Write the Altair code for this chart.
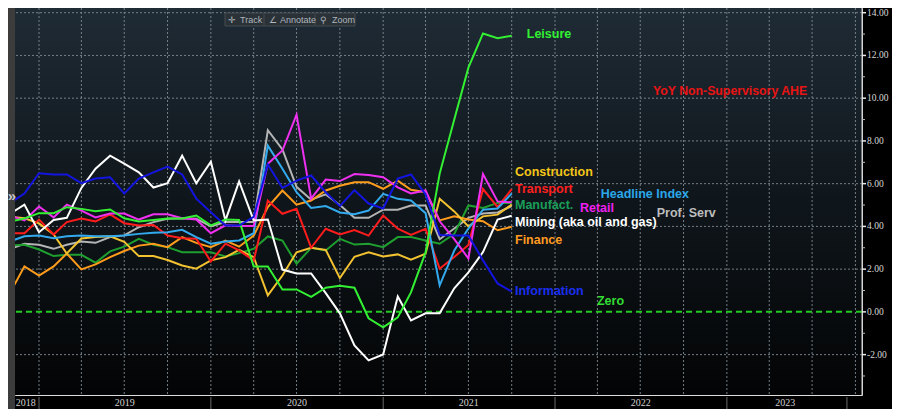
import altair as alt
import pandas as pd

# ---------------- data (monthly, Nov 2018 .. Oct 2021) ----------------
months = pd.date_range("2018-11-01", "2021-10-01", freq="MS")

leisure = [4.23, 4.37, 4.62, 4.62, 4.9, 4.82, 4.71, 4.79, 4.38, 4.23, 4.3, 4.37,
           4.37, 4.51, 4.05, 4.32, 4.3, 2.12, 2.12, 1.05, 1.05, 0.7, 1.13, 1.22,
           1.13, -0.3, -0.72, -0.26, 0.91, 2.78, 6.47, 9.0, 11.43, 13.03, 12.81, 12.92]
construction = [4.45, 4.38, 4.14, 3.62, 2.73, 3.43, 3.5, 3.54, 3.28, 2.61, 2.61, 2.43,
                2.17, 2.02, 2.41, 2.56, 2.9, 2.56, 0.77, 1.7, 2.79, 3.0, 2.9, 1.58,
                2.58, 2.79, 2.59, 2.69, 2.44, 2.72, 5.29, 4.7, 4.0, 4.47, 4.55, 5.02]
transport = [3.68, 3.68, 4.32, 3.62, 4.2, 4.37, 4.23, 4.56, 4.15, 4.04, 4.07, 3.57,
             3.45, 3.42, 2.36, 3.19, 2.88, 2.4, 5.21, 4.59, 4.82, 3.0, 3.89, 3.62,
             3.83, 3.57, 4.51, 3.89, 3.6, 3.89, 2.02, 2.57, 3.13, 5.75, 4.9, 5.74]
headline = [3.3, 3.54, 3.57, 3.45, 3.54, 3.57, 3.54, 3.54, 3.57, 3.65, 3.7, 3.73,
            3.84, 3.5, 3.19, 3.29, 3.34, 3.68, 7.78, 6.7, 5.6, 4.86, 4.95, 4.65,
            4.57, 4.74, 5.52, 5.29, 5.21, 4.62, 1.24, 2.87, 3.9, 4.78, 4.84, 5.54]
manufact = [3.1, 3.14, 2.92, 2.61, 2.67, 2.67, 2.3, 2.83, 3.05, 3.42, 3.14, 3.03,
            2.79, 2.79, 2.79, 2.59, 2.75, 2.95, 3.53, 3.34, 2.25, 3.0, 2.87, 3.42,
            3.15, 3.19, 3.03, 3.5, 3.5, 3.34, 3.19, 3.65, 4.98, 4.86, 5.1, 5.1]
retail = [4.5, 4.28, 4.93, 4.42, 5.02, 4.74, 4.42, 4.6, 4.6, 4.32, 4.57, 4.57,
          4.38, 4.32, 3.68, 4.05, 4.02, 4.02, 6.93, 7.55, 9.23, 5.3, 6.19, 6.12,
          6.45, 6.41, 6.3, 5.83, 5.54, 5.68, 4.24, 3.4, 2.5, 6.45, 5.17, 5.13]
prof_serv = [2.95, 3.19, 3.14, 2.95, 3.14, 3.29, 3.23, 3.5, 3.58, 3.96, 4.2, 4.36,
             4.38, 4.36, 4.0, 4.2, 4.2, 4.2, 8.5, 7.6, 5.85, 5.25, 5.5, 5.0,
             4.4, 4.4, 4.78, 4.78, 4.98, 4.98, 3.4, 3.9, 4.4, 4.6, 4.65, 4.95]
mining = [4.6, 5.02, 3.73, 4.3, 4.4, 5.8, 6.7, 7.31, 6.94, 6.53, 5.82, 6.02,
          7.31, 6.02, 7.03, 4.28, 6.1, 4.28, 4.32, 1.98, 1.8, 1.8, 0.88, -0.07,
          -1.57, -2.27, -1.99, 0.72, -0.4, -0.07, -0.07, 1.1, 1.85, 2.8, 4.32, 4.5]
finance = [0.91, 2.13, 1.7, 2.13, 2.73, 1.99, 2.22, 2.56, 2.85, 3.1, 3.19, 3.03,
           3.5, 3.23, 3.03, 3.34, 3.05, 3.57, 4.9, 5.68, 5.02, 5.21, 5.68, 5.9,
           6.07, 6.07, 5.76, 6.14, 5.71, 5.6, 4.28, 4.47, 4.32, 4.24, 3.82, 3.98]
information = [5.1, 5.54, 6.49, 6.43, 6.43, 6.02, 6.24, 6.3, 5.54, 6.24, 6.53, 6.8,
               6.43, 5.3, 4.66, 4.04, 4.04, 4.45, 6.9, 5.8, 6.14, 6.38, 5.6, 4.95,
               5.7, 5.07, 4.84, 6.24, 6.43, 5.5, 3.6, 3.57, 3.57, 2.41, 1.33, 0.95]

series_names = ["Prof. Serv", "Manufact.", "Finance", "Construction", "Transport",
                "Headline Index", "Retail", "Mining (aka oil and gas)", "Leisure",
                "Information"]
series_values = [prof_serv, manufact, finance, construction, transport,
                 headline, retail, mining, leisure, information]
series_colors = ["#b4b4b4", "#1f9f2f", "#ff9c1c", "#f2c230", "#ff1c1c",
                 "#33aaee", "#f030f0", "#ffffff", "#33f033", "#1414e0"]
series_widths = [2, 2, 2, 2, 2, 2, 2, 2, 2, 3]

# end-of-line labels
label_texts = ["Leisure", "Construction", "Transport", "Headline Index", "Manufact.",
               "Retail", "Prof. Serv", "Mining (aka oil and gas)", "Finance",
               "Information", "Zero"]
label_dates = ["2021-11-02", "2021-10-08", "2021-10-08", "2022-04-08", "2021-10-08",
               "2022-02-23", "2022-08-05", "2021-10-08", "2021-10-08", "2021-10-08",
               "2022-03-31"]
label_levels = [13.01, 6.55, 5.75, 5.52, 5.0, 4.86, 4.63, 4.21, 3.36, 0.97, 0.51]
label_colors = ["#33f033", "#f5c518", "#ff2020", "#2aa7e8", "#1b9e58", "#f020f0",
                "#bdbdbd", "#ffffff", "#ff9a22", "#1a2ef0", "#33dd33"]

title_text = ["YoY Non-Supervisory AHE"]
title_date = ["2022-07-28"]
title_level = [10.34]

zero_level = [0]

year_texts = ["2018", "2019", "2020", "2021", "2022", "2023"]
year_label_dates = ["2018-12-04", "2019-07-02", "2020-07-02", "2021-07-02",
                    "2022-07-02", "2023-05-05"]
year_sep_dates = ["2019-01-01", "2020-01-01", "2021-01-01", "2022-01-01",
                  "2023-01-01", "2023-09-13"]

y_ticks = [-2, 0, 2, 4, 6, 8, 10, 12, 14]
y_tick_labels = ["-2.00", "0.00", "2.00", "4.00", "6.00", "8.00", "10.00", "12.00", "14.00"]
y_minor = [-3, -1, 1, 3, 5, 7, 9, 11, 13]
quarter_dates = [f"{yy}-{mm:02d}-01" for yy in range(2019, 2024) for mm in (1, 4, 7, 10)]

toolbar_words = [("\u271b", 213), ("Track", 225), ("\u2220", 254), ("Annotate", 265),
                 ("\u26b2", 305), ("Zoom", 317)]
toolbar_seps = [249, 300]

# ---------------- tables ----------------
rows = []
for name, vals in zip(series_names, series_values):
    for d, v in zip(months, vals):
        rows.append({"date": d, "series": name, "value": v})
df = pd.DataFrame(rows)

labels_df = pd.DataFrame({"text": label_texts, "date": pd.to_datetime(label_dates),
                          "level": label_levels, "col": label_colors})
title_df = pd.DataFrame({"text": title_text, "date": pd.to_datetime(title_date),
                         "level": title_level})
zero_df = pd.DataFrame({"level": zero_level})
years_df = pd.DataFrame({"text": year_texts, "date": pd.to_datetime(year_label_dates)})
seps_df = pd.DataFrame({"date": pd.to_datetime(year_sep_dates)})
minor_df = pd.DataFrame({"level": y_minor})
major_df = pd.DataFrame({"level": y_ticks, "text": y_tick_labels})
hgrid_df = pd.DataFrame({"level": [v for v in y_ticks if v != 0]})
vgrid_df = pd.DataFrame({"date": pd.to_datetime(quarter_dates)})
one_df = pd.DataFrame({"k": [0]})

# ---------------- layout ----------------
W, H = 847, 387
FONT = "Liberation Sans"
NARROW = "Liberation Sans Narrow"
GRID = "#808b94"

x_scale = alt.Scale(domain=[alt.DateTime(year=2018, month=11, date=11),
                            alt.DateTime(year=2023, month=10, date=15)])
y_scale = alt.Scale(domain=[-3.89, 14.22], nice=False, zero=False)

month_ticks = []
for yy in range(2018, 2024):
    for mm in range(1, 13):
        if (yy == 2018 and mm < 12) or (yy == 2023 and mm > 10):
            continue
        month_ticks.append(alt.DateTime(year=yy, month=mm, date=1))

x_axis = alt.Axis(values=month_ticks, labels=False, ticks=True, tickSize=3,
                  tickColor="#bfbfbf", domain=True, domainColor="#d0d0d0",
                  grid=False, title=None)

bg = alt.Chart(one_df).mark_rect(
    color=alt.Gradient(gradient="linear", x1=0, y1=0, x2=0, y2=1,
                       stops=[alt.GradientStop(offset=0, color="#1f2b35"),
                              alt.GradientStop(offset=0.5, color="#0f161b"),
                              alt.GradientStop(offset=1, color="#030405")])
).encode(x=alt.value(0), x2=alt.value(W), y=alt.value(0), y2=alt.value(H))

hgrid = alt.Chart(hgrid_df).mark_rule(color=GRID, strokeDash=[2, 2], strokeWidth=1,
                                      opacity=0.9).encode(
    y=alt.Y("level:Q", scale=y_scale, axis=None))
vgrid = alt.Chart(vgrid_df).mark_rule(color=GRID, strokeDash=[2, 2], strokeWidth=1,
                                      opacity=0.9).encode(
    x=alt.X("date:T", scale=x_scale, axis=None))

zero = alt.Chart(zero_df).mark_rule(color="#22cc22", strokeWidth=2,
                                    strokeDash=[6, 4]).encode(
    y=alt.Y("level:Q", scale=y_scale, axis=None))

lines = alt.Chart(df).mark_line(clip=True).encode(
    x=alt.X("date:T", scale=x_scale, axis=x_axis),
    y=alt.Y("value:Q", scale=y_scale, axis=None),
    color=alt.Color("series:N", scale=alt.Scale(domain=series_names, range=series_colors),
                    legend=None),
    strokeWidth=alt.StrokeWidth("series:N",
                                scale=alt.Scale(domain=series_names, range=series_widths),
                                legend=None),
    order=alt.Order("date:T"),
)

labels = alt.Chart(labels_df).mark_text(align="left", baseline="middle", font=FONT,
                                        fontWeight="bold", fontSize=12.5).encode(
    x=alt.X("date:T", scale=x_scale, axis=None),
    y=alt.Y("level:Q", scale=y_scale, axis=None),
    text="text:N",
    color=alt.Color("col:N", scale=None),
)

title = alt.Chart(title_df).mark_text(align="left", baseline="middle", font=FONT,
                                      fontWeight="bold", fontSize=12.3,
                                      color="#e81414").encode(
    x=alt.X("date:T", scale=x_scale, axis=None),
    y=alt.Y("level:Q", scale=y_scale, axis=None),
    text="text:N",
)

# right-hand value axis
y_domain = alt.Chart(one_df).mark_rule(color="#cfcfcf", strokeWidth=1).encode(
    x=alt.value(W), y=alt.value(0), y2=alt.value(H))
major = alt.Chart(major_df).mark_rule(color="#e6e6e6", strokeWidth=1.5).encode(
    y=alt.Y("level:Q", scale=y_scale, axis=None),
    x=alt.value(W), x2=alt.value(W + 4))
minor = alt.Chart(minor_df).mark_rule(color="#bdbdbd", strokeWidth=1).encode(
    y=alt.Y("level:Q", scale=y_scale, axis=None),
    x=alt.value(W), x2=alt.value(W + 3))
major_labels = alt.Chart(major_df).mark_text(align="left", baseline="middle",
                                             font=NARROW, fontSize=9.5,
                                             color="#d8d8d8").encode(
    y=alt.Y("level:Q", scale=y_scale, axis=None),
    x=alt.value(W + 5),
    text="text:N",
)

years = alt.Chart(years_df).mark_text(baseline="middle", font=NARROW, fontSize=10,
                                      color="#d0d0d0").encode(
    x=alt.X("date:T", scale=x_scale, axis=None),
    y=alt.value(H + 8),
    text="text:N",
)

seps = alt.Chart(seps_df).mark_rule(color="#6a6a6a", strokeWidth=1).encode(
    x=alt.X("date:T", scale=x_scale, axis=None),
    y=alt.value(H + 2), y2=alt.value(H + 14),
)

strip = alt.Chart(one_df).mark_rect(color="#3c3c3c").encode(
    x=alt.value(-7), x2=alt.value(0), y=alt.value(0), y2=alt.value(H + 14))
chevron = alt.Chart(one_df).mark_text(text="\u00bb", font=FONT, fontWeight="bold",
                                      fontSize=15, color="#c8c8c8").encode(
    x=alt.value(-3), y=alt.value(188))

toolbar_box = alt.Chart(one_df).mark_rect(color="#2a3238", stroke="#454d53",
                                          strokeWidth=1).encode(
    x=alt.value(210), x2=alt.value(340), y=alt.value(5), y2=alt.value(18))
toolbar_layers = [toolbar_box]
for sx in toolbar_seps:
    toolbar_layers.append(
        alt.Chart(one_df).mark_rule(color="#454d53").encode(
            x=alt.value(sx), y=alt.value(6), y2=alt.value(17)))
for word, wx in toolbar_words:
    toolbar_layers.append(
        alt.Chart(one_df).mark_text(text=word, align="left", baseline="middle",
                                    font=FONT, fontSize=9, color="#aeb6bd").encode(
            x=alt.value(wx), y=alt.value(12)))

chart = alt.layer(
    bg, hgrid, vgrid, zero, lines, labels, title, y_domain, major, minor,
    major_labels, years, seps, strip, chevron, *toolbar_layers
).properties(
    width=W, height=H,
    autosize=alt.AutoSizeParams(type="none"),
    padding={"left": 7, "top": 0, "right": 30, "bottom": 14},
    background="#000000",
).configure_view(
    strokeWidth=0,
).configure(font=FONT)

chart.save("out.html", embed_options={"renderer": "svg", "actions": False})
